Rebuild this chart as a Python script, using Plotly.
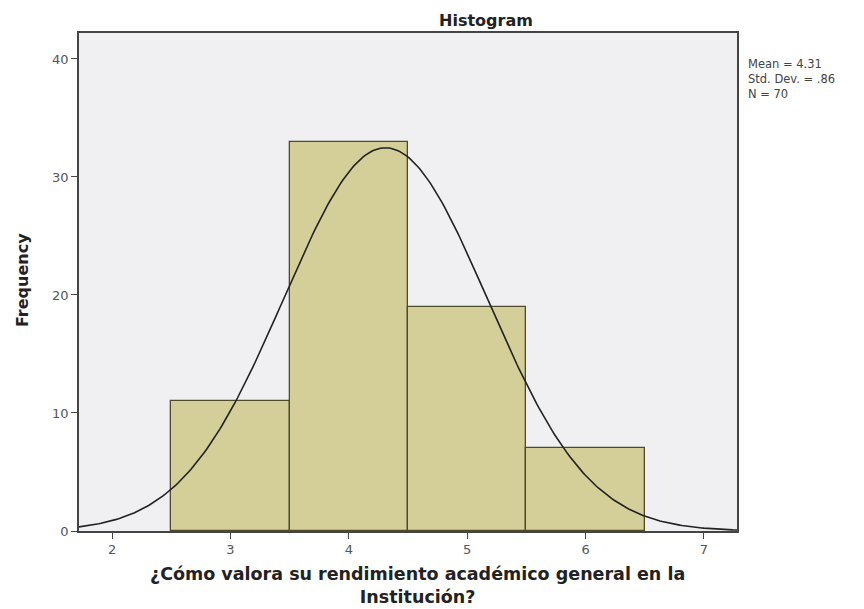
import numpy as np
import plotly.graph_objects as go

# Datos del histograma (lectura de la imagen)
categorias = [3, 4, 5, 6]
frecuencias = [11, 33, 19, 7]
media = 4.31
desv = 0.86
n_total = 70
ancho_bin = 1

# Curva normal ajustada
x_curva = np.linspace(1.72, 7.28, 300)
y_curva = n_total * ancho_bin / (desv * np.sqrt(2 * np.pi)) * np.exp(-0.5 * ((x_curva - media) / desv) ** 2)

fig = go.Figure()

fig.add_trace(go.Bar(x=categorias, y=frecuencias, width=1,
                     marker=dict(color='#d4cf98', line=dict(color='#4d4b2c', width=1.3)),
                     showlegend=False))

fig.add_trace(go.Scatter(x=x_curva, y=y_curva, mode='lines',
                         line=dict(color='#222222', width=1.6), showlegend=False))

fuente = 'DejaVu Sans, Verdana, sans-serif'

fig.update_layout(
    width=856, height=601,
    margin=dict(l=71, r=127, t=25, b=78),
    paper_bgcolor='white',
    plot_bgcolor='#f0f0f2',
    bargap=0,
    font=dict(family=fuente, color='#333333'),
    xaxis=dict(range=[1.72, 7.28], tickvals=[2, 3, 4, 5, 6, 7], ticks='outside', ticklen=6,
               tickcolor='#444444', showgrid=False, zeroline=False, showline=True,
               linecolor='#444444', linewidth=1.5, mirror=True,
               tickfont=dict(size=13, color='#555555')),
    yaxis=dict(range=[0, 42.2], tickvals=[0, 10, 20, 30, 40], ticks='outside', ticklen=6,
               tickcolor='#444444', showgrid=False, zeroline=False, showline=True,
               linecolor='#444444', linewidth=1.5, mirror=True,
               tickfont=dict(size=13, color='#555555')),
)

# Títulos
fig.add_annotation(text='<b>Histogram</b>', xref='paper', yref='paper', x=0.619, y=1.0,
                   yanchor='bottom', yshift=2, borderpad=0, showarrow=False,
                   font=dict(size=16, color='#222222'))
fig.add_annotation(text='<b>Frequency</b>', xref='paper', yref='paper', x=-0.104, y=0.504,
                   textangle=-90, showarrow=False, font=dict(size=16, color='#222222'))
fig.add_annotation(text='<b>¿Cómo valora su rendimiento académico general en la<br>Institución?</b>',
                   xref='paper', yref='paper', x=0.515, y=0, yanchor='top', yshift=-31,
                   showarrow=False, font=dict(size=17.5, color='#222222'))
fig.add_annotation(text='Mean = 4.31<br>Std. Dev. = .86<br>N = 70',
                   xref='paper', yref='paper', x=1.0, xshift=9, y=0.955, xanchor='left',
                   yanchor='top', align='left', showarrow=False,
                   font=dict(size=11.5, color='#444444'))

fig.write_html("out.html")
